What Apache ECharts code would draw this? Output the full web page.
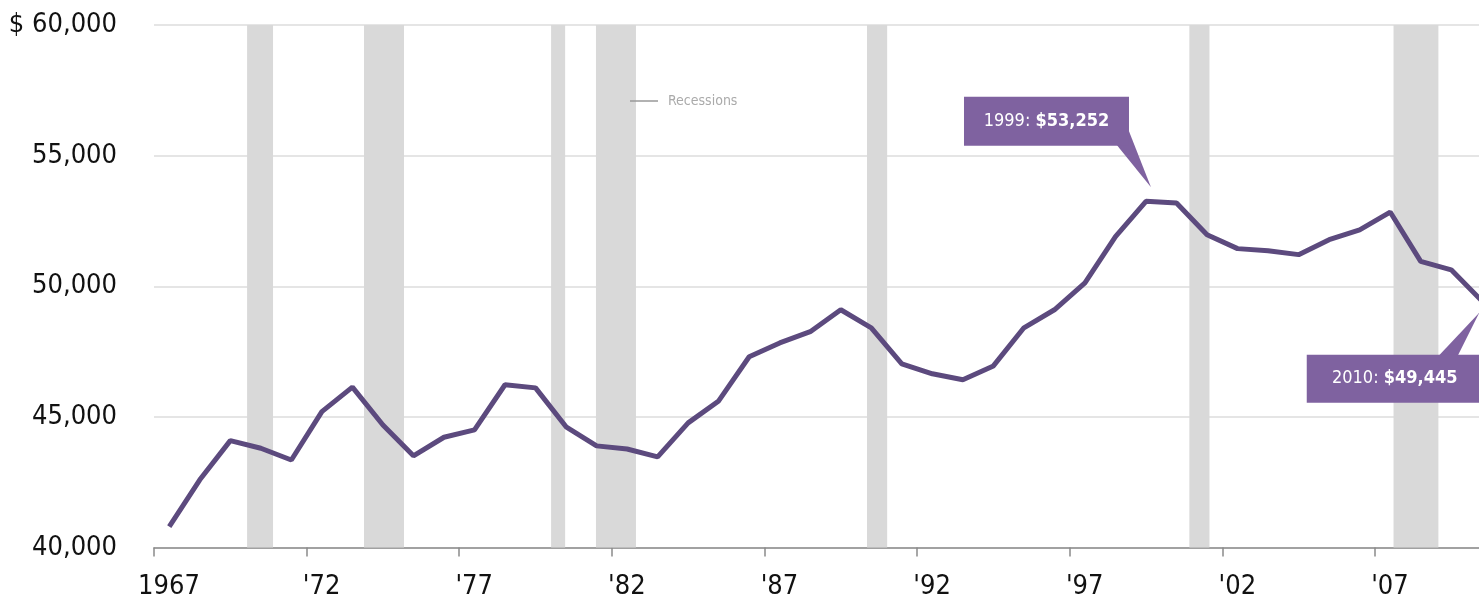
<!DOCTYPE html>
<html>
<head>
<meta charset="utf-8">
<style>
  html, body { margin: 0; padding: 0; background: #fff; }
  #main { width: 1479px; height: 601px; }
</style>
<script src="https://cdn.jsdelivr.net/npm/echarts@6/dist/echarts.min.js"></script>
</head>
<body>
<div id="main"></div>
<script>
// median household income, 1967-2010
const years = [1967, 1968, 1969, 1970, 1971, 1972, 1973, 1974, 1975, 1976, 1977,
  1978, 1979, 1980, 1981, 1982, 1983, 1984, 1985, 1986, 1987, 1988, 1989, 1990,
  1991, 1992, 1993, 1994, 1995, 1996, 1997, 1998, 1999, 2000, 2001, 2002, 2003,
  2004, 2005, 2006, 2007, 2008, 2009, 2010];
const income = [40800, 42590, 44090, 43800, 43350, 45200, 46140, 44690, 43510, 44220,
  44500, 46230, 46110, 44620, 43890, 43770, 43470, 44770, 45610, 47300, 47830, 48260,
  49100, 48410, 47030, 46650, 46420, 46950, 48410, 49100, 50130, 51900, 53252, 53190,
  51970, 51440, 51360, 51210, 51780, 52160, 52840, 50950, 50630, 49445];
// shaded recession periods [start, end]
const recessions = [[1970.05, 1970.9], [1973.88, 1975.19], [1980.01, 1980.47],
  [1981.48, 1982.79], [1990.36, 1991.02], [2000.92, 2001.58], [2007.61, 2009.08]];
const xTicks = [1967, 1972, 1977, 1982, 1987, 1992, 1997, 2002, 2007];
const yTicks = [40000, 45000, 50000, 55000, 60000];
const callouts = [
  { year: 1999, value: 53252 },
  { year: 2010, value: 49445 }
];

const FONT = "'DejaVu Sans Condensed', 'Liberation Sans Narrow', 'Open Sans', sans-serif";

const chart = echarts.init(document.getElementById('main'));

function fmtThousands(v) {
  return String(v).replace(/\B(?=(\d{3})+(?!\d))/g, ',');
}

chart.setOption({
  animation: false,
  grid: { left: 154, right: 0, top: 25, bottom: 53.5, containLabel: false, outerBoundsMode: 'none' },
  legend: {
    data: [{ name: 'Recessions', icon: 'rect' }],
    left: 630,
    top: 94,
    padding: 0,
    itemWidth: 28,
    itemHeight: 1.5,
    textStyle: { color: '#aaaaaa', fontSize: 14, fontFamily: FONT, padding: [0, 0, 0, 5] }
  },
  xAxis: {
    type: 'value',
    min: 1967,
    max: 2010.41,
    splitLine: { show: false },
    axisLine: { lineStyle: { color: '#8a8a8a', width: 1.5 } },
    axisTick: { customValues: xTicks, length: 9, lineStyle: { color: '#8a8a8a', width: 1.5 } },
    axisLabel: {
      customValues: xTicks,
      margin: 26,
      color: '#111',
      fontSize: 27,
      fontFamily: FONT,
      padding: [0, 0, 0, 30],
      formatter: function (v) {
        return v === 1967 ? '1967' : "'" + String(v).slice(2);
      }
    }
  },
  yAxis: {
    type: 'value',
    min: yTicks[0],
    max: yTicks[yTicks.length - 1],
    interval: 5000,
    axisLine: { show: false },
    axisTick: { show: false },
    splitLine: { lineStyle: { color: '#dcdcdc', width: 1.5 } },
    axisLabel: {
      margin: 37,
      color: '#111',
      fontSize: 27,
      fontFamily: FONT,
      formatter: function (v) {
        return (v === 60000 ? '$ ' : '') + fmtThousands(v);
      }
    }
  },
  series: [
    {
      name: 'Income',
      type: 'line',
      data: years.map((y, i) => [y + 0.5, income[i]]),
      symbol: 'none',
      lineStyle: { color: '#5c4a7e', width: 5 },
      itemStyle: { color: '#5c4a7e' },
      z: 3,
      markArea: {
        silent: true,
        itemStyle: { color: '#d9d9d9' },
        data: recessions.map(r => [{ xAxis: r[0] }, { xAxis: r[1] }])
      }
    },
    {
      name: 'Recessions',
      type: 'line',
      data: [],
      symbol: 'none',
      lineStyle: { color: '#999999', width: 1.5 },
      itemStyle: { color: '#999999' }
    }
  ]
});

// callout boxes placed from the data points
const boxColor = '#7f62a0';
const p1 = chart.convertToPixel({ gridIndex: 0 }, [callouts[0].year + 0.5, callouts[0].value]);
const p2 = chart.convertToPixel({ gridIndex: 0 }, [callouts[1].year + 0.5, callouts[1].value]);

function label(c) {
  return '{a|' + c.year + ': }{b|$' + fmtThousands(c.value) + '}';
}
const richText = {
  a: { fill: '#fff', fontSize: 18, fontFamily: FONT },
  b: { fill: '#fff', fontSize: 18, fontFamily: FONT, fontWeight: 'bold' }
};

chart.setOption({
  graphic: [
    {
      type: 'polygon', z: 10,
      shape: { points: [[p1[0] - 29, p1[1] - 56], [p1[0] - 17, p1[1] - 70], [p1[0] + 5, p1[1] - 14]] },
      style: { fill: boxColor }
    },
    {
      type: 'rect', z: 10,
      shape: { x: p1[0] - 182, y: p1[1] - 104.5, width: 165, height: 49 },
      style: { fill: boxColor }
    },
    {
      type: 'text', z: 11,
      x: p1[0] - 99.5, y: p1[1] - 80,
      style: { text: label(callouts[0]), fill: '#fff', rich: richText, align: 'center', verticalAlign: 'middle' }
    },
    {
      type: 'polygon', z: 10,
      shape: { points: [[p2[0] - 43, p2[1] + 55], [p2[0] - 24, p2[1] + 55], [p2[0] - 2.5, p2[1] + 12]] },
      style: { fill: boxColor }
    },
    {
      type: 'rect', z: 10,
      shape: { x: p2[0] - 175, y: p2[1] + 54, width: 175, height: 48 },
      style: { fill: boxColor }
    },
    {
      type: 'text', z: 11,
      x: p2[0] - 87, y: p2[1] + 78,
      style: { text: label(callouts[1]), fill: '#fff', rich: richText, align: 'center', verticalAlign: 'middle' }
    }
  ]
});
</script>
</body>
</html>
